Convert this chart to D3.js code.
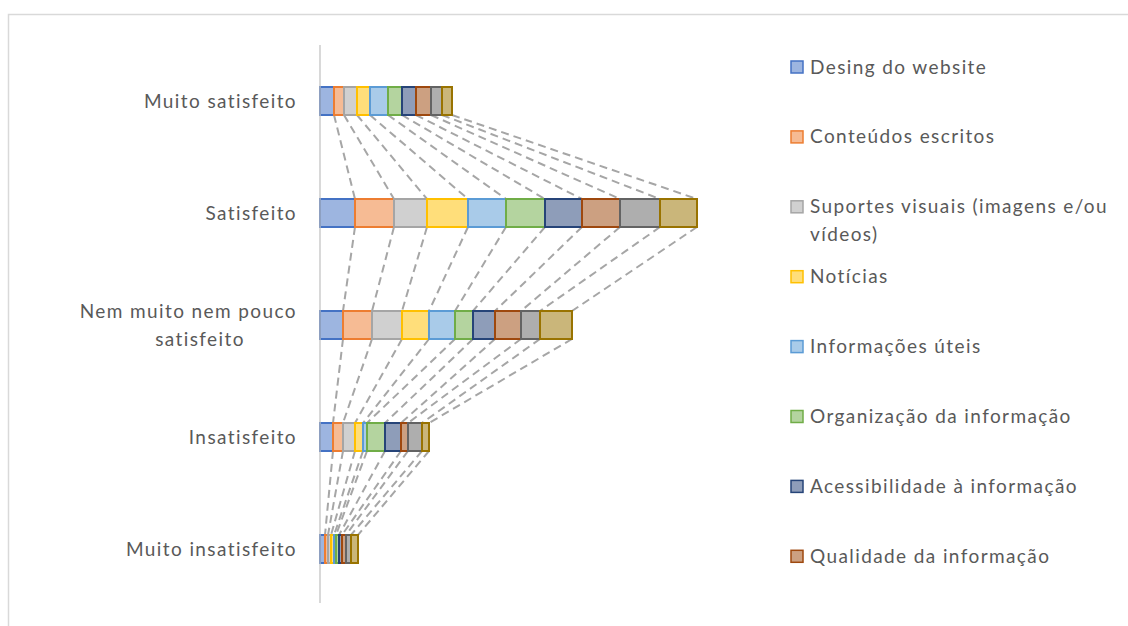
<!DOCTYPE html>
<html>
<head>
<meta charset="utf-8">
<script src="https://cdn.jsdelivr.net/npm/d3@7"></script>
<style>
  html, body { margin: 0; padding: 0; background: #fff; }
  svg { display: block; font-family: Lato, "Open Sans", sans-serif; }
  svg text { letter-spacing: 1.4px; }
</style>
</head>
<body>
<svg id="chart" width="1128" height="626"></svg>
<script>
// Satisfaction levels (top to bottom)
const categories = ["Muito satisfeito", "Satisfeito", "Nem muito nem pouco satisfeito", "Insatisfeito", "Muito insatisfeito"];

// Evaluated aspects (stack order, left to right)
const seriesNames = [
  "Desing do website",
  "Conteúdos escritos",
  "Suportes visuais (imagens e/ou vídeos)",
  "Notícias",
  "Informações úteis",
  "Organização da informação",
  "Acessibilidade à informação",
  "Qualidade da informação",
  "Facilidade de navegação",
  "Atualização dos conteúdos"
];

// Responses per aspect, one array per satisfaction level
const muitoSatisfeito     = [14, 10, 13, 13, 18, 14, 14, 15, 11, 10];
const satisfeito          = [35, 39, 33, 41, 38, 39, 37, 38, 40, 37];
const nemMuitoNemPouco    = [23, 29, 30, 27, 26, 18, 22, 26, 19, 32];
const insatisfeito        = [13, 10, 12,  8,  4, 18, 16,  7, 14,  7];
const muitoInsatisfeito   = [ 5,  3,  3,  3,  2,  3,  3,  4,  5,  7];

const seriesColors = ["#4472C4", "#ED7D31", "#A5A5A5", "#FFC000", "#5B9BD5",
                      "#70AD47", "#264478", "#9E480E", "#636363", "#997300"];

const rows = [muitoSatisfeito, satisfeito, nemMuitoNemPouco, insatisfeito, muitoInsatisfeito];
const table = categories.map((c, i) => {
  const o = { category: c };
  seriesNames.forEach((s, j) => { o[s] = rows[i][j]; });
  return o;
});

const svg = d3.select("#chart");
const textColor = "#595959";

// chart frame
svg.append("rect")
  .attr("x", 8.5).attr("y", 14.5)
  .attr("width", 1200).attr("height", 700)
  .attr("fill", "none").attr("stroke", "#d9d9d9").attr("stroke-width", 1.5);

const x = d3.scaleLinear().domain([0, 405]).range([320, 725]);
const y = d3.scaleBand().domain(categories).range([45, 605]).padding(0);
const barH = y.bandwidth() * 0.25;
const yc = c => y(c) + y.bandwidth() / 2;

const stack = d3.stack().keys(seriesNames)(table);

// series lines between consecutive bars
const lines = svg.append("g");
stack.forEach((layer, j) => {
  for (let i = 0; i < layer.length - 1; i++) {
    const a = layer[i], b = layer[i + 1];
    lines.append("line")
      .attr("x1", x(a[1])).attr("y1", yc(a.data.category) + barH / 2)
      .attr("x2", x(b[1])).attr("y2", yc(b.data.category) - barH / 2)
      .attr("stroke", "#a6a6a6").attr("stroke-width", 2)
      .attr("stroke-dasharray", "8,5");
  }
});

// stacked bars
const bars = svg.append("g");
stack.forEach((layer, j) => {
  bars.append("g").selectAll("rect").data(layer).join("rect")
    .attr("x", d => x(d[0]))
    .attr("y", d => yc(d.data.category) - barH / 2)
    .attr("width", d => x(d[1]) - x(d[0]))
    .attr("height", barH)
    .attr("fill", seriesColors[j]).attr("fill-opacity", 0.52)
    .attr("stroke", seriesColors[j]).attr("stroke-width", 2);
});

// vertical category axis
svg.append("line")
  .attr("x1", x(0)).attr("x2", x(0))
  .attr("y1", y.range()[0]).attr("y2", y.range()[1] - 2)
  .attr("stroke", "#bfbfbf").attr("stroke-width", 1.2);

// category labels, wrapped where the label is long
const labelSize = 19;
categories.forEach(c => {
  const cy = yc(c) - 1;
  if (c === "Nem muito nem pouco satisfeito") {
    svg.append("text").attr("x", 297).attr("y", cy - 14)
      .attr("text-anchor", "end").attr("dominant-baseline", "central")
      .attr("font-size", labelSize).attr("fill", textColor).text("Nem muito nem pouco");
    svg.append("text").attr("x", 200).attr("y", cy + 14)
      .attr("text-anchor", "middle").attr("dominant-baseline", "central")
      .attr("font-size", labelSize).attr("fill", textColor).text("satisfeito");
  } else {
    svg.append("text").attr("x", 297).attr("y", cy)
      .attr("text-anchor", "end").attr("dominant-baseline", "central")
      .attr("font-size", labelSize).attr("fill", textColor).text(c);
  }
});

// legend: the box holds the first eight entries
const legendTop = 67, legendStep = 69.9, legendCount = 8;
const legend = svg.append("g");
seriesNames.slice(0, legendCount).forEach((name, j) => {
  const ly = legendTop + j * legendStep;
  legend.append("rect")
    .attr("x", 791).attr("y", ly - 6).attr("width", 12).attr("height", 12)
    .attr("fill", seriesColors[j]).attr("fill-opacity", 0.52)
    .attr("stroke", seriesColors[j]).attr("stroke-width", 1.5);
  const ty = ly - 1;
  if (name.startsWith("Suportes visuais")) {
    legend.append("text").attr("x", 810).attr("y", ty)
      .attr("dominant-baseline", "central").attr("font-size", labelSize)
      .attr("fill", textColor).text("Suportes visuais (imagens e/ou");
    legend.append("text").attr("x", 810).attr("y", ty + 28)
      .attr("dominant-baseline", "central").attr("font-size", labelSize)
      .attr("fill", textColor).text("vídeos)");
  } else {
    legend.append("text").attr("x", 810).attr("y", ty)
      .attr("dominant-baseline", "central").attr("font-size", labelSize)
      .attr("fill", textColor).text(name);
  }
});
</script>
</body>
</html>
